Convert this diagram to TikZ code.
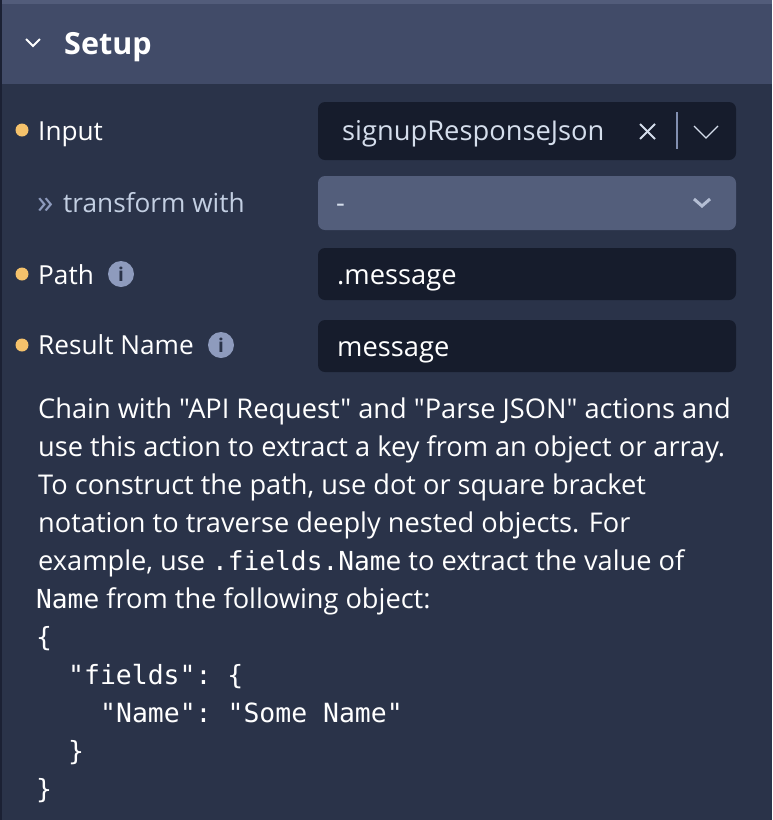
\documentclass[tikz,border=0pt]{standalone}
\usepackage{fontspec}
\setmainfont{Open Sans}
\newfontfamily\uifont{Open Sans}
\setmonofont{DejaVu Sans Mono}
\definecolor{panelbg}{HTML}{2A3349}
\definecolor{headbg}{HTML}{414B68}
\definecolor{headtop}{HTML}{525C7A}
\definecolor{edgebg}{HTML}{1B2134}
\definecolor{fieldbg}{HTML}{161C2C}
\definecolor{selectbg}{HTML}{535E7B}
\definecolor{dotcol}{HTML}{F5C26B}
\definecolor{infocol}{HTML}{8E9BBD}
\definecolor{softtext}{HTML}{C3CFE2}
\definecolor{valuetext}{HTML}{D5DEEC}
\definecolor{chevcol}{HTML}{B4BED4}
\tikzset{
  lbl/.style={anchor=base west,inner sep=0pt,text=white,font=\uifont\fontsize{26.2}{26}\selectfont},
  val/.style={anchor=base west,inner sep=0pt,text=white,font=\uifont\fontsize{27.3}{27}\selectfont},
  para/.style={anchor=base west,inner sep=0pt,text=white,font=\uifont\fontsize{27.2}{27}\selectfont},
  code/.style={anchor=base west,inner sep=0pt,text=white,font=\ttfamily\fontsize{26.45}{26}\selectfont},
  field/.style={shape=rectangle,rounded corners=7pt,fill=fieldbg,minimum width=418pt,inner sep=0pt},
  dot/.style={shape=circle,fill=dotcol,minimum size=13pt,inner sep=0pt},
  info/.style={shape=circle,fill=infocol,minimum size=26pt,inner sep=0pt,text=panelbg,font=\bfseries\fontsize{19}{19}\selectfont}
}
\newcommand{\inl}[1]{{\ttfamily\fontsize{26.2}{26}\selectfont #1}}
\begin{document}
\begin{tikzpicture}[x=1pt,y=-1pt]
\useasboundingbox (0,0) rectangle (772,820);
\fill [panelbg] (0,0) rectangle (772,820);
\fill [headbg] (0,4) rectangle (772,84);
\fill [headtop] (0,0) rectangle (772,4);
\fill [edgebg] (0,0) rectangle (2,820);
% header
\draw [white,line width=2pt] (26,39) -- (33,46) -- (40,39);
\node (setup) at (64,54) [lbl,font=\bfseries\fontsize{30.5}{30}\selectfont]{Setup};
% left column
\node (dotA) at (22,130) [dot]{};
\node (input) at (38,140) [lbl]{Input};
\node (chev) at (37,213) [lbl,text=infocol,font=\uifont\fontsize{33}{33}\selectfont]{»};
\node (transform) at (63,212) [lbl,text=softtext]{transform with};
\node (dotB) at (22,274) [dot]{};
\node (path) at (38,284) [lbl]{Path};
\node (infoA) at (121,274) [info]{i};
\node (dotC) at (22,345) [dot]{};
\node (result) at (38,354) [lbl]{Result Name};
\node (infoB) at (221,345) [info]{i};
% right column
\node (boxA) at (527,131) [field,minimum height=58pt]{};
\node (boxB) at (527,203) [field,fill=selectbg,minimum height=54pt]{};
\node (boxC) at (527,274) [field,minimum height=52pt]{};
\node (boxD) at (527,346) [field,minimum height=52pt]{};
\node (valA) at (342,140) [val,text=valuetext]{signupResponseJson};
\node (valB) at (336,212) [val,text=valuetext]{-};
\node (valC) at (337,284) [val]{.message};
\node (valD) at (337,356) [val]{message};
\draw [valuetext,line width=2pt] (640,124) -- (655,139);
\draw [valuetext,line width=2pt] (655,124) -- (640,139);
\draw [infocol!80!selectbg,line width=1.6pt] (677,112) -- (677,149);
\draw [valuetext,line width=1.3pt] (694,126) -- (706,138) -- (718,126);
\draw [chevcol,line width=3pt] (694,199) -- (702,206) -- (710,199);
% help text
\node (lineA) at (38,418) [para]{Chain with "API Request" and "Parse JSON" actions and};
\node (lineB) at (38,456) [para]{use this action to extract a key from an object or array.};
\node (lineC) at (38,494) [para]{To construct the path, use dot or square bracket};
\node (lineD) at (38,532) [para]{notation to traverse deeply nested objects. For};
\node (lineE) at (38,570) [para]{example, use \inl{.fields.Name} to extract the value of};
\node (lineF) at (36,608) [para]{\inl{Name} from the following object:};
\node (codeA) at (36,646) [code]{\{};
\node (codeB) at (68,684) [code]{"fields": \{};
\node (codeC) at (100,722) [code]{"Name": "Some Name"};
\node (codeD) at (68,760) [code]{\}};
\node (codeE) at (36,798) [code]{\}};
\end{tikzpicture}
\end{document}
